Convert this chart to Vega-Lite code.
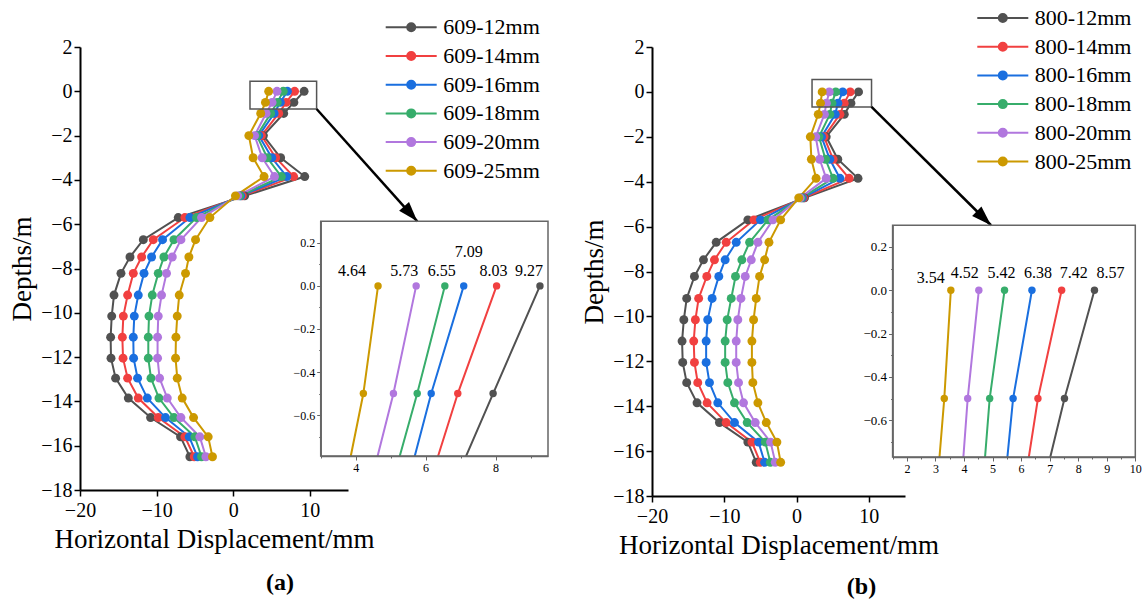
{
"$schema": "https://vega.github.io/schema/vega-lite/v6.json",
"padding": {"left": 8, "top": 7, "right": 0, "bottom": 0},
"background": "white",
"bounds": "flush",
"spacing": 304,
"resolve": {"scale": {"x": "independent", "y": "independent", "stroke": "independent", "fill": "independent"}, "legend": {"stroke": "independent", "fill": "independent"}},
"config": {
  "view": {"stroke": null},
  "font": "Liberation Serif",
  "axis": {"grid": false, "labelFont": "Liberation Serif", "titleFont": "Liberation Serif", "domainColor": "black", "tickColor": "black", "labelColor": "black", "titleColor": "black", "titleFontWeight": "normal", "labelOverlap": false, "labelFlush": false},
  "legend": {"labelFont": "Liberation Serif", "labelColor": "black"},
  "title": {"font": "Liberation Serif", "color": "black"},
  "text": {"font": "Liberation Serif", "fontSize": 16, "baseline": "alphabetic", "color": "black"}
},
"datasets": {
  "a": [
    {"d": 0, "609-12mm": 9.27, "609-14mm": 8.03, "609-16mm": 7.09, "609-18mm": 6.55, "609-20mm": 5.73, "609-25mm": 4.64},
    {"d": -0.5, "609-12mm": 7.93, "609-14mm": 6.92, "609-16mm": 6.16, "609-18mm": 5.76, "609-20mm": 5.08, "609-25mm": 4.22},
    {"d": -1, "609-12mm": 6.6, "609-14mm": 5.95, "609-16mm": 5.35, "609-18mm": 4.9, "609-20mm": 4.3, "609-25mm": 3.6},
    {"d": -2, "609-12mm": 3.95, "609-14mm": 3.7, "609-16mm": 3.35, "609-18mm": 3.1, "609-20mm": 2.8, "609-25mm": 2.05},
    {"d": -3, "609-12mm": 6.2, "609-14mm": 5.55, "609-16mm": 5.05, "609-18mm": 4.45, "609-20mm": 3.8, "609-25mm": 2.61},
    {"d": -3.85, "609-12mm": 9.35, "609-14mm": 7.9, "609-16mm": 7.0, "609-18mm": 6.3, "609-20mm": 5.4, "609-25mm": 4.04},
    {"d": -4.72, "609-12mm": 1.5, "609-14mm": 1.2, "609-16mm": 1.0, "609-18mm": 0.85, "609-20mm": 0.6, "609-25mm": 0.3},
    {"d": -5.7, "609-12mm": -7.17, "609-14mm": -6.3, "609-16mm": -5.65, "609-18mm": -4.78, "609-20mm": -4.13, "609-25mm": -3.04},
    {"d": -6.7, "609-12mm": -11.73, "609-14mm": -10.43, "609-16mm": -9.22, "609-18mm": -7.73, "609-20mm": -6.82, "609-25mm": -4.91},
    {"d": -7.48, "609-12mm": -13.47, "609-14mm": -11.95, "609-16mm": -10.65, "609-18mm": -9.04, "609-20mm": -7.95, "609-25mm": -5.78},
    {"d": -8.22, "609-12mm": -14.65, "609-14mm": -13.04, "609-16mm": -11.64, "609-18mm": -9.78, "609-20mm": -8.7, "609-25mm": -6.22},
    {"d": -9.2, "609-12mm": -15.56, "609-14mm": -13.78, "609-16mm": -12.39, "609-18mm": -10.56, "609-20mm": -9.35, "609-25mm": -7.04},
    {"d": -10.15, "609-12mm": -15.86, "609-14mm": -14.34, "609-16mm": -12.91, "609-18mm": -10.99, "609-20mm": -9.78, "609-25mm": -7.3},
    {"d": -11.1, "609-12mm": -16.0, "609-14mm": -14.47, "609-16mm": -13.04, "609-18mm": -11.08, "609-20mm": -9.87, "609-25mm": -7.47},
    {"d": -12.05, "609-12mm": -15.95, "609-14mm": -14.38, "609-16mm": -13.0, "609-18mm": -11.08, "609-20mm": -9.87, "609-25mm": -7.52},
    {"d": -12.95, "609-12mm": -15.35, "609-14mm": -13.78, "609-16mm": -12.48, "609-18mm": -10.73, "609-20mm": -9.61, "609-25mm": -7.3},
    {"d": -13.85, "609-12mm": -13.69, "609-14mm": -12.39, "609-16mm": -11.21, "609-18mm": -9.69, "609-20mm": -8.6, "609-25mm": -6.65},
    {"d": -14.73, "609-12mm": -10.78, "609-14mm": -9.78, "609-16mm": -8.83, "609-18mm": -7.73, "609-20mm": -6.82, "609-25mm": -5.17},
    {"d": -15.6, "609-12mm": -6.87, "609-14mm": -6.3, "609-16mm": -5.74, "609-18mm": -5.0, "609-20mm": -4.35, "609-25mm": -3.26},
    {"d": -16.5, "609-12mm": -5.65, "609-14mm": -5.08, "609-16mm": -4.65, "609-18mm": -4.13, "609-20mm": -3.56, "609-25mm": -2.7}
  ],
  "b": [
    {"d": 0, "800-12mm": 8.57, "800-14mm": 7.42, "800-16mm": 6.38, "800-18mm": 5.42, "800-20mm": 4.52, "800-25mm": 3.54},
    {"d": -0.5, "800-12mm": 7.52, "800-14mm": 6.59, "800-16mm": 5.72, "800-18mm": 4.9, "800-20mm": 4.13, "800-25mm": 3.31},
    {"d": -1, "800-12mm": 6.6, "800-14mm": 6.0, "800-16mm": 5.35, "800-18mm": 4.6, "800-20mm": 3.85, "800-25mm": 3.0},
    {"d": -2, "800-12mm": 4.1, "800-14mm": 3.8, "800-16mm": 3.45, "800-18mm": 3.1, "800-20mm": 2.65, "800-25mm": 1.9},
    {"d": -3, "800-12mm": 5.7, "800-14mm": 5.05, "800-16mm": 4.6, "800-18mm": 4.0, "800-20mm": 3.2, "800-25mm": 2.05},
    {"d": -3.85, "800-12mm": 8.5, "800-14mm": 7.27, "800-16mm": 6.0, "800-18mm": 5.05, "800-20mm": 4.1, "800-25mm": 2.7},
    {"d": -4.72, "800-12mm": 1.1, "800-14mm": 0.95, "800-16mm": 0.8, "800-18mm": 0.65, "800-20mm": 0.5, "800-25mm": 0.3},
    {"d": -5.7, "800-12mm": -6.74, "800-14mm": -5.9, "800-16mm": -5.0, "800-18mm": -3.95, "800-20mm": -3.27, "800-25mm": -2.2},
    {"d": -6.7, "800-12mm": -11.12, "800-14mm": -9.74, "800-16mm": -8.35, "800-18mm": -6.5, "800-20mm": -5.35, "800-25mm": -3.82},
    {"d": -7.48, "800-12mm": -12.88, "800-14mm": -11.36, "800-16mm": -9.88, "800-18mm": -7.57, "800-20mm": -6.27, "800-25mm": -4.42},
    {"d": -8.22, "800-12mm": -14.13, "800-14mm": -12.42, "800-16mm": -10.76, "800-18mm": -8.45, "800-20mm": -7.1, "800-25mm": -5.12},
    {"d": -9.2, "800-12mm": -15.2, "800-14mm": -13.55, "800-16mm": -11.68, "800-18mm": -9.04, "800-20mm": -7.7, "800-25mm": -5.58},
    {"d": -10.15, "800-12mm": -15.6, "800-14mm": -14.0, "800-16mm": -12.29, "800-18mm": -9.6, "800-20mm": -8.13, "800-25mm": -5.95},
    {"d": -11.1, "800-12mm": -15.84, "800-14mm": -14.23, "800-16mm": -12.51, "800-18mm": -9.88, "800-20mm": -8.35, "800-25mm": -6.18},
    {"d": -12.05, "800-12mm": -15.75, "800-14mm": -14.13, "800-16mm": -12.51, "800-18mm": -9.88, "800-20mm": -8.35, "800-25mm": -6.18},
    {"d": -12.95, "800-12mm": -15.2, "800-14mm": -13.67, "800-16mm": -12.05, "800-18mm": -9.51, "800-20mm": -8.03, "800-25mm": -6.05},
    {"d": -13.85, "800-12mm": -13.77, "800-14mm": -12.38, "800-16mm": -10.9, "800-18mm": -8.59, "800-20mm": -7.34, "800-25mm": -5.35},
    {"d": -14.73, "800-12mm": -10.67, "800-14mm": -9.74, "800-16mm": -8.59, "800-18mm": -6.83, "800-20mm": -5.72, "800-25mm": -4.19},
    {"d": -15.6, "800-12mm": -6.74, "800-14mm": -6.18, "800-16mm": -5.26, "800-18mm": -4.33, "800-20mm": -3.59, "800-25mm": -2.72},
    {"d": -16.5, "800-12mm": -5.58, "800-14mm": -5.02, "800-16mm": -4.42, "800-18mm": -3.63, "800-20mm": -2.95, "800-25mm": -2.2}
  ]
},
"hconcat": [
{
  "width": 268, "height": 443,
  "title": {"text": "(a)", "orient": "bottom", "fontSize": 24, "fontWeight": "bold", "anchor": "middle", "dx": 66, "offset": 19},
  "resolve": {"scale": {"x": "independent", "y": "independent"}, "axis": {"x": "independent", "y": "independent"}},
  "layer": [
    {"layer": [
      {"data": {"name": "a"},
       "transform": [{"fold": ["609-12mm", "609-14mm", "609-16mm", "609-18mm", "609-20mm", "609-25mm"], "as": ["series", "disp"]}],
       "layer": [
         {"mark": {"type": "line", "strokeWidth": 2},
          "encoding": {
            "x": {"field": "disp", "type": "quantitative", "scale": {"domain": [-20, 15], "nice": false, "zero": false},
                  "axis": {"title": "Horizontal Displacement/mm", "orient": "bottom", "values": [-20, -15, -10, -5, 0, 5, 10, 15], "labelExpr": "datum.value % 10 === 0 ? datum.label : ''", "tickSize": {"condition": {"test": "datum.value % 10 === 0", "value": 6}, "value": 3}, "labelFontSize": 20, "titleFontSize": 27, "domainWidth": 2, "tickWidth": 1.5, "labelPadding": 4, "titlePadding": 6, "zindex": 1}},
            "y": {"field": "d", "type": "quantitative", "scale": {"domain": [-18, 2], "nice": false, "zero": false},
                  "axis": {"title": "Depths/m", "orient": "left", "values": [-18, -17, -16, -15, -14, -13, -12, -11, -10, -9, -8, -7, -6, -5, -4, -3, -2, -1, 0, 1, 2], "labelExpr": "datum.value % 2 === 0 ? datum.label : ''", "tickSize": {"condition": {"test": "datum.value % 2 === 0", "value": 6}, "value": 3}, "labelFontSize": 20, "titleFontSize": 27, "domainWidth": 2, "tickWidth": 1.5, "labelPadding": 2, "titlePadding": 4, "zindex": 1}},
            "stroke": {"field": "series", "type": "nominal",
                  "scale": {"domain": ["609-12mm", "609-14mm", "609-16mm", "609-18mm", "609-20mm", "609-25mm"], "range": ["#515151", "#F14040", "#1A6FDF", "#37AD6B", "#B177DE", "#CC9900"]},
                  "legend": {"orient": "none", "legendX": 320.2, "legendY": -30.7, "title": null, "labelFontSize": 22, "symbolType": "M-2.55,0L2.55,0M0.4,0A0.4,0.4,0,1,1,-0.4,0A0.4,0.4,0,1,1,0.4,0Z", "symbolSize": 400, "symbolStrokeWidth": 2, "rowPadding": 6.7, "labelOffset": 21, "padding": 0}},
            "order": {"field": "d", "type": "quantitative"}
          }},
         {"mark": {"type": "point", "filled": true, "size": 80, "opacity": 1},
          "encoding": {
            "x": {"field": "disp", "type": "quantitative"},
            "y": {"field": "d", "type": "quantitative"},
            "fill": {"field": "series", "type": "nominal",
                  "scale": {"domain": ["609-12mm", "609-14mm", "609-16mm", "609-18mm", "609-20mm", "609-25mm"], "range": ["#515151", "#F14040", "#1A6FDF", "#37AD6B", "#B177DE", "#CC9900"]},
                  "legend": {"orient": "none", "legendX": 320.2, "legendY": -30.7, "title": null, "labelFontSize": 22, "symbolType": "M-2.55,0L2.55,0M0.4,0A0.4,0.4,0,1,1,-0.4,0A0.4,0.4,0,1,1,0.4,0Z", "symbolSize": 400, "symbolStrokeWidth": 2, "rowPadding": 6.7, "labelOffset": 21, "padding": 0}}
          }}
       ]},
      {"data": {"values": [{"x0": 2.2, "x1": 10.9, "y0": -0.8, "y1": 0.45}]},
       "mark": {"type": "rect", "fill": null, "fillOpacity": 0, "stroke": "#555555", "strokeWidth": 1.5},
       "encoding": {"x": {"field": "x0", "type": "quantitative"}, "x2": {"field": "x1"}, "y": {"field": "y0", "type": "quantitative"}, "y2": {"field": "y1"}}},
      {"data": {"values": [{"x0": 10.9, "y0": -0.8, "x1": 24.05, "y1": -5.87}]},
       "mark": {"type": "rule", "strokeWidth": 2.5, "color": "black"},
       "encoding": {"x": {"field": "x0", "type": "quantitative"}, "x2": {"field": "x1"}, "y": {"field": "y0", "type": "quantitative"}, "y2": {"field": "y1"}}},
      {"data": {"values": [{"x1": 24.05, "y1": -5.87}]},
       "mark": {"type": "point", "shape": "M0,0L-0.33,1L0.33,1Z", "size": 1600, "angle": 138.6, "filled": true, "color": "black", "opacity": 1},
       "encoding": {"x": {"field": "x1", "type": "quantitative"}, "y": {"field": "y1", "type": "quantitative"}}}
    ]},
    {"layer": [
      {"data": {"name": "a"},
       "transform": [{"fold": ["609-12mm", "609-14mm", "609-16mm", "609-18mm", "609-20mm", "609-25mm"], "as": ["series", "disp"]}, {"filter": "datum.d >= -1"}],
       "layer": [
         {"mark": {"type": "line", "strokeWidth": 2},
          "encoding": {
            "x": {"field": "disp", "type": "quantitative", "scale": {"domain": [3, 9.5], "range": [240.7, 468], "nice": false, "zero": false},
                  "axis": {"title": null, "orient": "bottom", "offset": -34, "values": [3, 4, 5, 6, 7, 8, 9], "labelExpr": "datum.value % 2 === 0 ? format(datum.value, 'd') : ''", "tickSize": {"condition": {"test": "datum.value % 2 === 0", "value": 4}, "value": 2}, "labelFontSize": 12, "labelOverlap": false, "domainColor": "#666666", "tickColor": "#666666", "domainWidth": 1.5, "labelPadding": 2, "zindex": 1}},
            "y": {"field": "d", "type": "quantitative", "scale": {"domain": [-0.79, 0.3], "range": [409, 174.3], "nice": false, "zero": false},
                  "axis": {"title": null, "orient": "left", "offset": -240.7, "values": [-0.7, -0.6, -0.5, -0.4, -0.3, -0.2, -0.1, 0, 0.1, 0.2], "format": ".1f", "labelExpr": "abs(round(datum.value * 10)) % 2 === 0 ? datum.label : ''", "tickSize": {"condition": {"test": "abs(round(datum.value * 10)) % 2 === 0", "value": 4}, "value": 2}, "labelFontSize": 12, "labelOverlap": false, "domainColor": "#666666", "tickColor": "#666666", "domainWidth": 1.5, "labelPadding": 2, "zindex": 1}},
            "stroke": {"field": "series", "type": "nominal"},
            "order": {"field": "d", "type": "quantitative"}
          }},
         {"mark": {"type": "point", "filled": true, "size": 55, "opacity": 1},
          "encoding": {
            "x": {"field": "disp", "type": "quantitative"},
            "y": {"field": "d", "type": "quantitative"},
            "fill": {"field": "series", "type": "nominal"}
          }},
         {"transform": [{"filter": "datum.d === 0"}],
          "encoding": {"x": {"field": "disp", "type": "quantitative"}, "y": {"field": "d", "type": "quantitative"}, "text": {"field": "disp", "type": "quantitative", "format": ".2f"}},
          "layer": [
            {"transform": [{"filter": "datum.series === '609-25mm'"}], "mark": {"type": "text", "dx": -26, "dy": -10}},
            {"transform": [{"filter": "datum.series === '609-20mm'"}], "mark": {"type": "text", "dx": -12, "dy": -10}},
            {"transform": [{"filter": "datum.series === '609-18mm'"}], "mark": {"type": "text", "dx": -3, "dy": -10}},
            {"transform": [{"filter": "datum.series === '609-16mm'"}], "mark": {"type": "text", "dx": 5, "dy": -29}},
            {"transform": [{"filter": "datum.series === '609-14mm'"}], "mark": {"type": "text", "dx": -3, "dy": -10}},
            {"transform": [{"filter": "datum.series === '609-12mm'"}], "mark": {"type": "text", "dx": -11, "dy": -10}}
          ]}
       ]},
      {"data": {"values": [{"x0": 3, "x1": 9.5, "y0": -0.79, "y1": -1.08}]},
       "mark": {"type": "rect", "fill": "white", "stroke": null},
       "encoding": {"x": {"field": "x0", "type": "quantitative"}, "x2": {"field": "x1"}, "y": {"field": "y0", "type": "quantitative"}, "y2": {"field": "y1"}}},
      {"data": {"values": [{"x0": 3, "x1": 9.5, "y0": -0.79, "y1": 0.3}]},
       "mark": {"type": "rect", "fill": null, "fillOpacity": 0, "stroke": "#666666", "strokeWidth": 1.5},
       "encoding": {"x": {"field": "x0", "type": "quantitative"}, "x2": {"field": "x1"}, "y": {"field": "y0", "type": "quantitative"}, "y2": {"field": "y1"}}}
    ]}
  ]
},
{
  "width": 253, "height": 449,
  "title": {"text": "(b)", "orient": "bottom", "fontSize": 24, "fontWeight": "bold", "anchor": "middle", "dx": 83, "offset": 17},
  "resolve": {"scale": {"x": "independent", "y": "independent"}, "axis": {"x": "independent", "y": "independent"}},
  "layer": [
    {"layer": [
      {"data": {"name": "b"},
       "transform": [{"fold": ["800-12mm", "800-14mm", "800-16mm", "800-18mm", "800-20mm", "800-25mm"], "as": ["series", "disp"]}],
       "layer": [
         {"mark": {"type": "line", "strokeWidth": 2},
          "encoding": {
            "x": {"field": "disp", "type": "quantitative", "scale": {"domain": [-20, 15], "nice": false, "zero": false},
                  "axis": {"title": "Horizontal Displacement/mm", "orient": "bottom", "values": [-20, -15, -10, -5, 0, 5, 10, 15], "labelExpr": "datum.value % 10 === 0 ? datum.label : ''", "tickSize": {"condition": {"test": "datum.value % 10 === 0", "value": 6}, "value": 3}, "labelFontSize": 20, "titleFontSize": 27, "domainWidth": 2, "tickWidth": 1.5, "labelPadding": 4, "titlePadding": 6, "zindex": 1}},
            "y": {"field": "d", "type": "quantitative", "scale": {"domain": [-18, 2], "nice": false, "zero": false},
                  "axis": {"title": "Depths/m", "orient": "left", "values": [-18, -17, -16, -15, -14, -13, -12, -11, -10, -9, -8, -7, -6, -5, -4, -3, -2, -1, 0, 1, 2], "labelExpr": "datum.value % 2 === 0 ? datum.label : ''", "tickSize": {"condition": {"test": "datum.value % 2 === 0", "value": 6}, "value": 3}, "labelFontSize": 20, "titleFontSize": 27, "domainWidth": 2, "tickWidth": 1.5, "labelPadding": 2, "titlePadding": 4, "zindex": 1}},
            "stroke": {"field": "series", "type": "nominal",
                  "scale": {"domain": ["800-12mm", "800-14mm", "800-16mm", "800-18mm", "800-20mm", "800-25mm"], "range": ["#515151", "#F14040", "#1A6FDF", "#37AD6B", "#B177DE", "#CC9900"]},
                  "legend": {"orient": "none", "legendX": 339.8, "legendY": -40, "title": null, "labelFontSize": 22, "symbolType": "M-2.55,0L2.55,0M0.4,0A0.4,0.4,0,1,1,-0.4,0A0.4,0.4,0,1,1,0.4,0Z", "symbolSize": 400, "symbolStrokeWidth": 2, "rowPadding": 6.7, "labelOffset": 21, "padding": 0}},
            "order": {"field": "d", "type": "quantitative"}
          }},
         {"mark": {"type": "point", "filled": true, "size": 80, "opacity": 1},
          "encoding": {
            "x": {"field": "disp", "type": "quantitative"},
            "y": {"field": "d", "type": "quantitative"},
            "fill": {"field": "series", "type": "nominal",
                  "scale": {"domain": ["800-12mm", "800-14mm", "800-16mm", "800-18mm", "800-20mm", "800-25mm"], "range": ["#515151", "#F14040", "#1A6FDF", "#37AD6B", "#B177DE", "#CC9900"]},
                  "legend": {"orient": "none", "legendX": 339.8, "legendY": -40, "title": null, "labelFontSize": 22, "symbolType": "M-2.55,0L2.55,0M0.4,0A0.4,0.4,0,1,1,-0.4,0A0.4,0.4,0,1,1,0.4,0Z", "symbolSize": 400, "symbolStrokeWidth": 2, "rowPadding": 6.7, "labelOffset": 21, "padding": 0}}
          }}
       ]},
      {"data": {"values": [{"x0": 2.14, "x1": 10.37, "y0": -0.67, "y1": 0.55}]},
       "mark": {"type": "rect", "fill": null, "fillOpacity": 0, "stroke": "#555555", "strokeWidth": 1.5},
       "encoding": {"x": {"field": "x0", "type": "quantitative"}, "x2": {"field": "x1"}, "y": {"field": "y0", "type": "quantitative"}, "y2": {"field": "y1"}}},
      {"data": {"values": [{"x0": 10.37, "y0": -0.67, "x1": 26.9, "y1": -5.94}]},
       "mark": {"type": "rule", "strokeWidth": 2.5, "color": "black"},
       "encoding": {"x": {"field": "x0", "type": "quantitative"}, "x2": {"field": "x1"}, "y": {"field": "y0", "type": "quantitative"}, "y2": {"field": "y1"}}},
      {"data": {"values": [{"x1": 26.9, "y1": -5.94}]},
       "mark": {"type": "point", "shape": "M0,0L-0.33,1L0.33,1Z", "size": 1600, "angle": 134.6, "filled": true, "color": "black", "opacity": 1},
       "encoding": {"x": {"field": "x1", "type": "quantitative"}, "y": {"field": "y1", "type": "quantitative"}}}
    ]},
    {"layer": [
      {"data": {"name": "b"},
       "transform": [{"fold": ["800-12mm", "800-14mm", "800-16mm", "800-18mm", "800-20mm", "800-25mm"], "as": ["series", "disp"]}, {"filter": "datum.d >= -1"}],
       "layer": [
         {"mark": {"type": "line", "strokeWidth": 2},
          "encoding": {
            "x": {"field": "disp", "type": "quantitative", "scale": {"domain": [1.5, 10], "range": [240.6, 483.3], "nice": false, "zero": false},
                  "axis": {"title": null, "orient": "bottom", "offset": -39, "tickCount": 17, "labelExpr": "datum.value % 1 === 0 ? ('' + datum.value) : ''", "tickSize": {"condition": {"test": "datum.value % 1 === 0", "value": 4}, "value": 2}, "labelFontSize": 12, "labelOverlap": false, "labelSeparation": -30, "labelBound": false, "domainColor": "#666666", "tickColor": "#666666", "domainWidth": 1.5, "labelPadding": 2, "zindex": 1}},
            "y": {"field": "d", "type": "quantitative", "scale": {"domain": [-0.77, 0.3], "range": [410, 178.3], "nice": false, "zero": false},
                  "axis": {"title": null, "orient": "left", "offset": -240.6, "values": [-0.7, -0.6, -0.5, -0.4, -0.3, -0.2, -0.1, 0, 0.1, 0.2], "format": ".1f", "labelExpr": "abs(round(datum.value * 10)) % 2 === 0 ? datum.label : ''", "tickSize": {"condition": {"test": "abs(round(datum.value * 10)) % 2 === 0", "value": 4}, "value": 2}, "labelFontSize": 13, "labelOverlap": false, "domainColor": "#666666", "tickColor": "#666666", "domainWidth": 1.5, "labelPadding": 2, "zindex": 1}},
            "stroke": {"field": "series", "type": "nominal"},
            "order": {"field": "d", "type": "quantitative"}
          }},
         {"mark": {"type": "point", "filled": true, "size": 55, "opacity": 1},
          "encoding": {
            "x": {"field": "disp", "type": "quantitative"},
            "y": {"field": "d", "type": "quantitative"},
            "fill": {"field": "series", "type": "nominal"}
          }},
         {"transform": [{"filter": "datum.d === 0"}],
          "encoding": {"x": {"field": "disp", "type": "quantitative"}, "y": {"field": "d", "type": "quantitative"}, "text": {"field": "disp", "type": "quantitative", "format": ".2f"}},
          "layer": [
            {"transform": [{"filter": "datum.series === '800-25mm'"}], "mark": {"type": "text", "dx": -20, "dy": -7}},
            {"transform": [{"filter": "datum.series === '800-20mm'"}], "mark": {"type": "text", "dx": -14, "dy": -12}},
            {"transform": [{"filter": "datum.series === '800-18mm'"}], "mark": {"type": "text", "dx": -3, "dy": -12}},
            {"transform": [{"filter": "datum.series === '800-16mm'"}], "mark": {"type": "text", "dx": 6, "dy": -12}},
            {"transform": [{"filter": "datum.series === '800-14mm'"}], "mark": {"type": "text", "dx": 12, "dy": -12}},
            {"transform": [{"filter": "datum.series === '800-12mm'"}], "mark": {"type": "text", "dx": 16, "dy": -12}}
          ]}
       ]},
      {"data": {"values": [{"x0": 1.5, "x1": 10, "y0": -0.77, "y1": -1.08}]},
       "mark": {"type": "rect", "fill": "white", "stroke": null},
       "encoding": {"x": {"field": "x0", "type": "quantitative"}, "x2": {"field": "x1"}, "y": {"field": "y0", "type": "quantitative"}, "y2": {"field": "y1"}}},
      {"data": {"values": [{"x0": 1.5, "x1": 10, "y0": -0.77, "y1": 0.3}]},
       "mark": {"type": "rect", "fill": null, "fillOpacity": 0, "stroke": "#666666", "strokeWidth": 1.5},
       "encoding": {"x": {"field": "x0", "type": "quantitative"}, "x2": {"field": "x1"}, "y": {"field": "y0", "type": "quantitative"}, "y2": {"field": "y1"}}}
    ]}
  ]
}
]
}
